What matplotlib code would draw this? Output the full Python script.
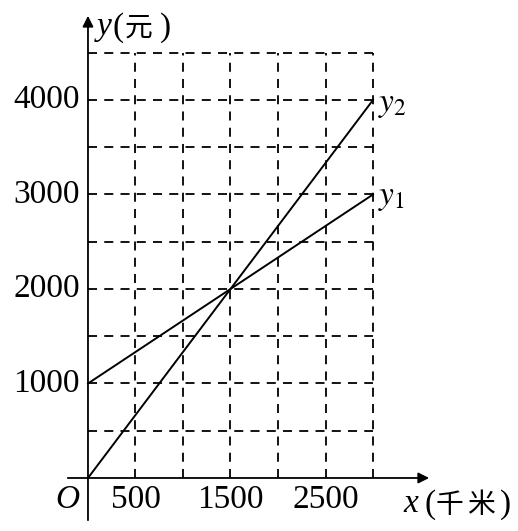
import matplotlib
matplotlib.use("Agg")
import matplotlib.pyplot as plt

# Data
grid_x = [500, 1000, 1500, 2000, 2500, 3000]
grid_y = [500, 1000, 1500, 2000, 2500, 3000, 3500, 4000, 4500]
x_tick_labels = [500, 1500, 2500]
y_tick_labels = [1000, 2000, 3000, 4000]
line_x = [0, 3000]
y1_vals = [1000, 3000]
y2_vals = [0, 4000]

plt.rcParams['mathtext.fontset'] = 'stix'
serif = ['Liberation Serif', 'Noto Sans CJK SC']
cjk = ['Noto Sans CJK SC']

fig = plt.figure(figsize=(5.18, 5.31), dpi=100)
ax = fig.add_axes([0, 0, 1, 1])
ax.set_xlim(-926, 4526)
ax.set_ylim(-561, 5058)
ax.axis('off')

dash = dict(color='black', lw=1.3, linestyle=(0, (5, 4)))
xmax = grid_x[-1]
ymax = grid_y[-1]
for gx in grid_x:
    ax.plot([gx, gx], [0, ymax], **dash)
for gy in grid_y:
    ax.plot([0, xmax], [gy, gy], **dash)

# axes
ax.annotate('', xy=(3620, 0), xytext=(-242, 0),
            arrowprops=dict(arrowstyle='-|>', color='black', lw=1.3, mutation_scale=16))
ax.annotate('', xy=(0, 4920), xytext=(0, -476),
            arrowprops=dict(arrowstyle='-|>', color='black', lw=1.3, mutation_scale=16))

# lines
ax.plot(line_x, y1_vals, color='black', lw=1.4)
ax.plot(line_x, y2_vals, color='black', lw=1.4)

fs = 24
for v in y_tick_labels:
    ax.text(-84, v, str(v), ha='right', va='center', fontsize=fs, family=serif)
for v in x_tick_labels:
    ax.text(v, -233, str(v), ha='center', va='center', fontsize=fs, family=serif)

ax.text(-221, -233, 'O', ha='center', va='center', fontsize=fs, family=serif, style='italic')

# x-axis label
ax.text(3316, -270, 'x', ha='left', va='center', fontsize=fs, family=serif, style='italic')
ax.text(3547, -286, '(', ha='left', va='center', fontsize=fs, family=serif)
ax.text(3653, -286, '千', ha='left', va='center', fontsize=20, family=cjk)
ax.text(3989, -286, '米', ha='left', va='center', fontsize=20, family=cjk)
ax.text(4337, -286, ')', ha='left', va='center', fontsize=fs, family=serif)

# y-axis label
ax.text(95, 4780, 'y', ha='left', va='center', fontsize=fs, family=serif, style='italic')
ax.text(263, 4762, '(', ha='left', va='center', fontsize=fs, family=serif)
ax.text(389, 4762, '元', ha='left', va='center', fontsize=20, family=cjk)
ax.text(758, 4762, ')', ha='left', va='center', fontsize=fs, family=serif)

ax.text(3053, 3947, '$y_2$', ha='left', va='center', fontsize=fs, family=serif)
ax.text(3053, 2963, '$y_1$', ha='left', va='center', fontsize=fs, family=serif)

fig.savefig('out.png', dpi=100)
